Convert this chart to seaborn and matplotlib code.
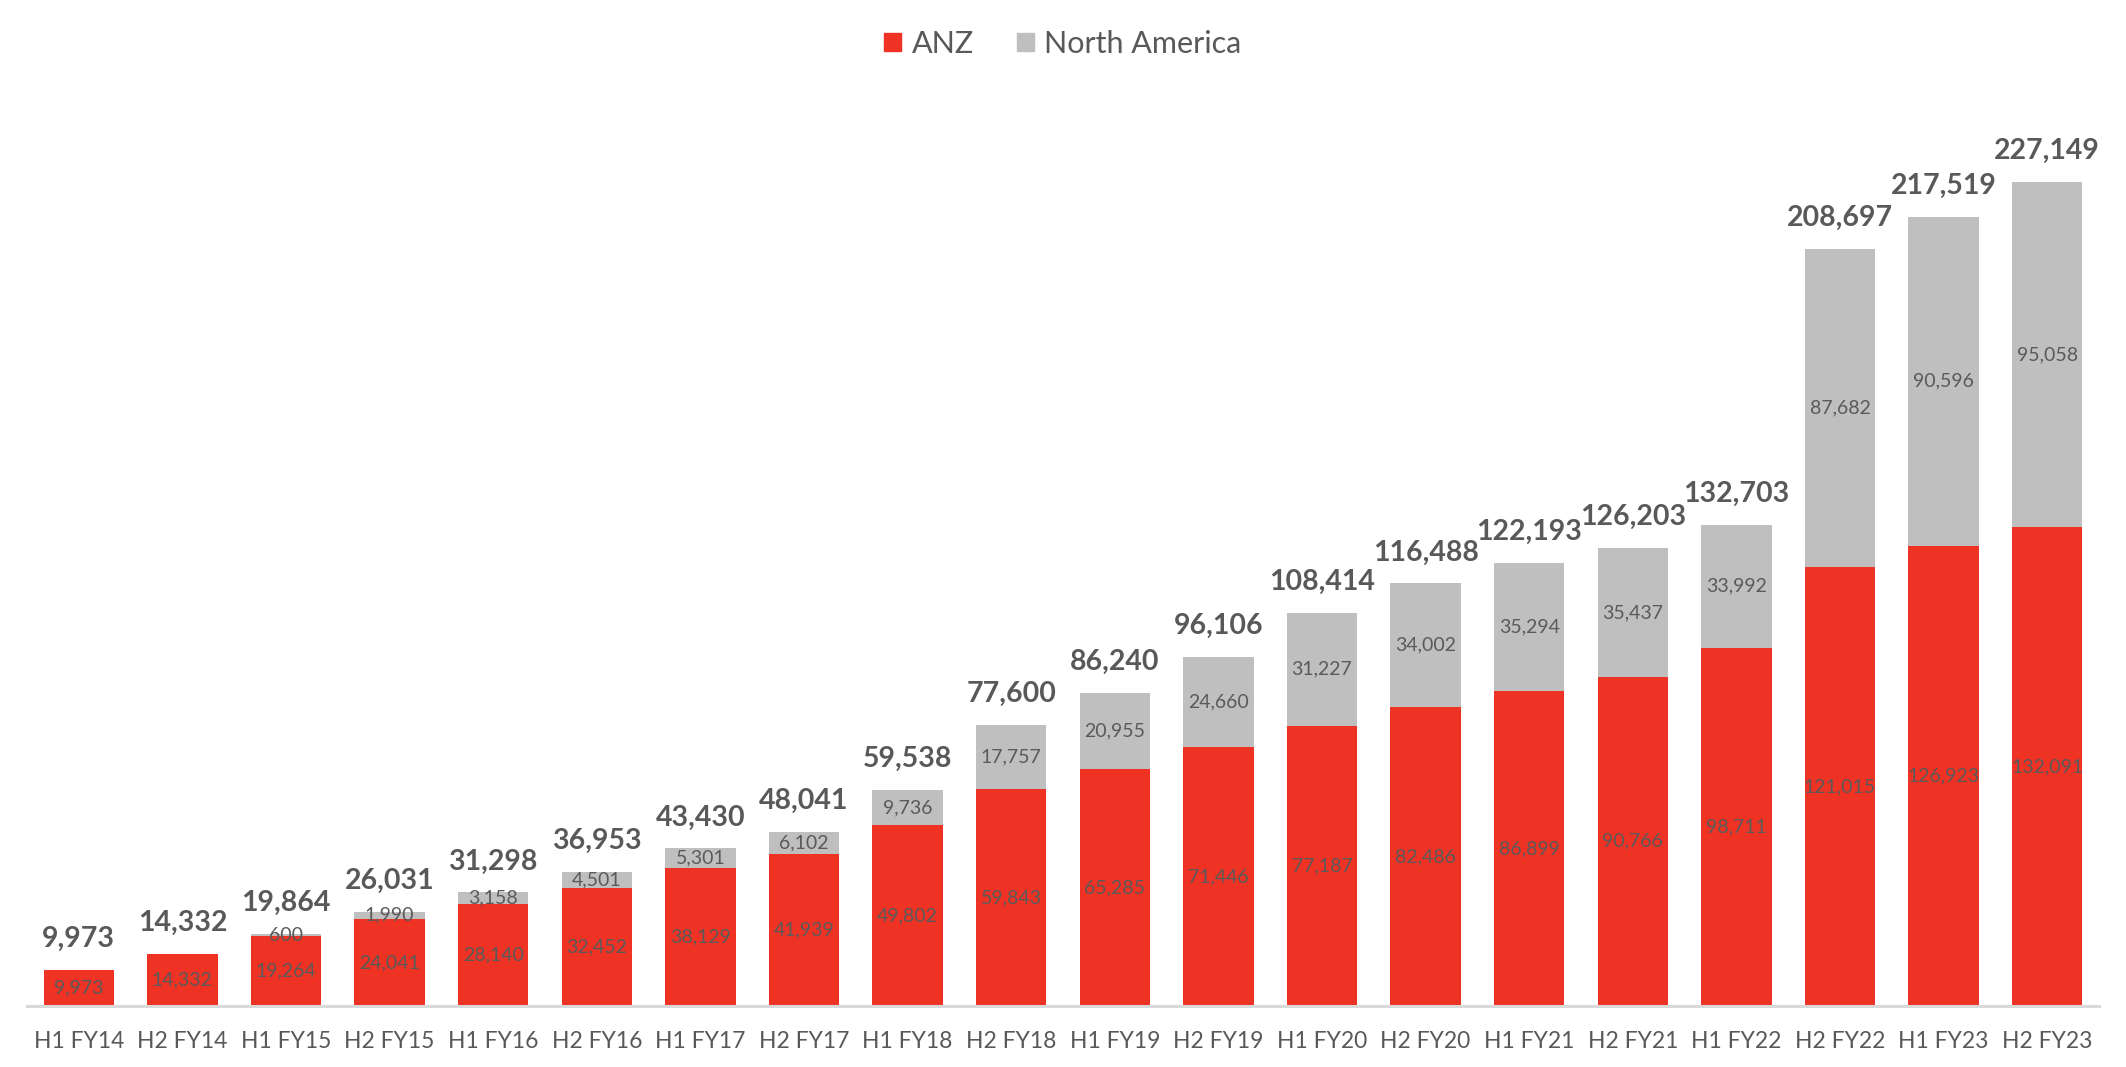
import matplotlib
matplotlib.use("Agg")
import matplotlib.pyplot as plt
import seaborn as sns
import pandas as pd
from matplotlib.patches import Patch

periods = ["H1 FY14", "H2 FY14", "H1 FY15", "H2 FY15", "H1 FY16", "H2 FY16", "H1 FY17",
           "H2 FY17", "H1 FY18", "H2 FY18", "H1 FY19", "H2 FY19", "H1 FY20", "H2 FY20",
           "H1 FY21", "H2 FY21", "H1 FY22", "H2 FY22", "H1 FY23", "H2 FY23"]
anz = [9973, 14332, 19264, 24041, 28140, 32452, 38129, 41939, 49802, 59843,
       65285, 71446, 77187, 82486, 86899, 90766, 98711, 121015, 126923, 132091]
north_america = [0, 0, 600, 1990, 3158, 4501, 5301, 6102, 9736, 17757,
                 20955, 24660, 31227, 34002, 35294, 35437, 33992, 87682, 90596, 95058]
totals = [a + n for a, n in zip(anz, north_america)]

RED = "#EE3224"
GRAY = "#BFBFBF"
TXT = "#595959"

df = pd.DataFrame({"period": periods, "ANZ": anz, "NA": north_america, "total": totals})

sns.set_theme(style="white")
plt.rcParams["font.family"] = ["Lato", "DejaVu Sans"]

fig = plt.figure(figsize=(21.26, 10.67), dpi=100)
ax = fig.add_axes([27 / 2126, (1067 - 1006) / 1067, (2099 - 27) / 2126, 896 / 1067])

sns.barplot(data=df, x="period", y="total", color=GRAY, saturation=1, width=0.68,
            ax=ax, linewidth=0)
sns.barplot(data=df, x="period", y="ANZ", color=RED, saturation=1, width=0.68,
            ax=ax, linewidth=0)

ax.set_xlim(-0.5, len(periods) - 0.5)
ax.set_ylim(0, 227149 * 896 / 824)

# total labels
ax.bar_label(ax.containers[0], labels=[f"{v:,}" for v in totals], padding=13,
             fontsize=20.5, fontweight="bold", color=TXT)
# ANZ labels
ax.bar_label(ax.containers[1], labels=[f"{v:,}" for v in anz], label_type="center",
             fontsize=14, color="#5A5A5A")
# NA labels
for i, (a, n) in enumerate(zip(anz, north_america)):
    if n > 0:
        ax.text(i, a + n / 2, f"{n:,}", ha="center", va="center", fontsize=14,
                color="#5A5A5A")

ax.set_xlabel("")
ax.set_ylabel("")
ax.set_yticks([])
ax.tick_params(axis="x", labelsize=16.5, labelcolor=TXT, length=0, pad=18)
for s in ["top", "left", "right"]:
    ax.spines[s].set_visible(False)
ax.spines["bottom"].set_color("#D9D9D9")
ax.spines["bottom"].set_linewidth(2.2)

handles = [Patch(color=RED, label="ANZ"), Patch(color=GRAY, label="North America")]
leg = fig.legend(handles=handles, loc="center", bbox_to_anchor=(0.5, 1 - 44 / 1067), ncol=2,
                 frameon=False, fontsize=22, handlelength=0.55, handleheight=0.55,
                 handletextpad=0.35, columnspacing=1.4)
for t in leg.get_texts():
    t.set_color(TXT)

fig.savefig("out.png", dpi=100)
